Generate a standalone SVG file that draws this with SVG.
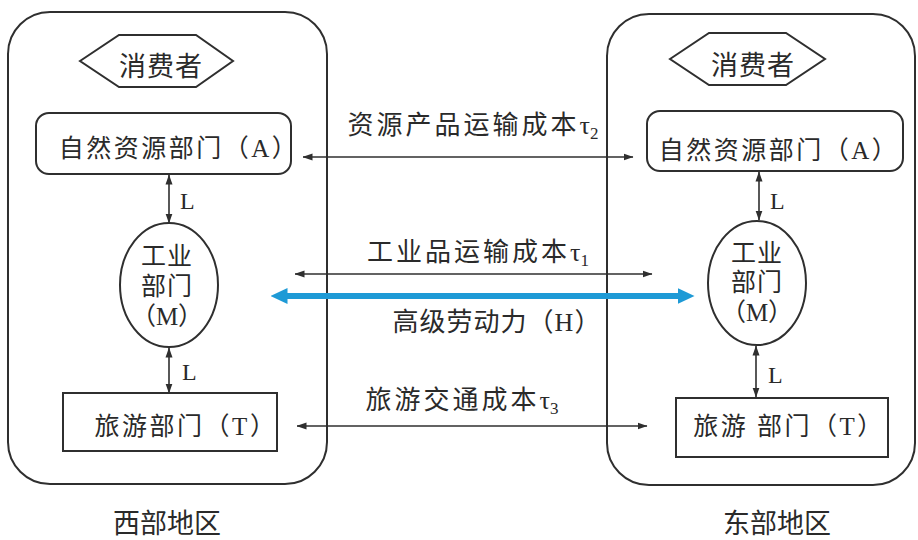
<svg xmlns="http://www.w3.org/2000/svg" width="918" height="540" viewBox="0 0 918 540">
<style>
.box{fill:none;stroke:#2f2f2f;stroke-width:2}
.cn{stroke:#2f2f2f;stroke-width:1.6;fill:none}
.t{font-family:"Liberation Serif","Noto Sans CJK SC",serif;fill:#2a2a2a}
.n{font-size:25px;text-anchor:middle}
.w{letter-spacing:2.5px}
.lab{font-size:26px;text-anchor:middle;letter-spacing:3px}
.L{font-size:24px}
.tau{letter-spacing:0}
</style>
<defs>
<marker id="ah" markerUnits="userSpaceOnUse" markerWidth="10" markerHeight="8" refX="9.5" refY="4" orient="auto-start-reverse" viewBox="0 0 10 8">
<path d="M0,0.5 L10,4 L0,7.5 z" fill="#2f2f2f"/>
</marker>
<marker id="bh" markerUnits="userSpaceOnUse" markerWidth="17" markerHeight="16" refX="0.5" refY="8" orient="auto-start-reverse" viewBox="0 0 17 16">
<path d="M0,0 L17,8 L0,16 z" fill="#1e9ad6"/>
</marker>
</defs>
<g id="west">
<rect class="box" x="8" y="12" width="319" height="472" rx="42"/>
<text class="t" x="167" y="533" font-size="27" text-anchor="middle">西部地区</text>
</g>
<g id="east">
<rect class="box" x="607" y="14" width="308" height="471" rx="42"/>
<text class="t" x="777" y="533" font-size="27" text-anchor="middle">东部地区</text>
</g>
<g id="w-consumer">
<polygon class="box" points="80,61 119,35 196,35 233,61 196,87 119,87"/>
<text class="t" x="161" y="76" font-size="27" text-anchor="middle" letter-spacing="1">消费者</text>
</g>
<g id="e-consumer">
<polygon class="box" points="670,59 709,33 786,33 825,59 786,85 709,85"/>
<text class="t" x="753" y="75" font-size="27" text-anchor="middle" letter-spacing="1">消费者</text>
</g>
<g id="w-A">
<rect class="box" x="36" y="113" width="255" height="61" rx="13"/>
<text class="t n w" x="179" y="157">自然资源部门（A）</text>
</g>
<g id="e-A">
<rect class="box" x="647" y="111" width="256" height="60" rx="13"/>
<text class="t n w" x="779" y="159">自然资源部门（A）</text>
</g>
<g id="w-M">
<ellipse class="box" cx="169" cy="285" rx="49" ry="62"/>
<text class="t n" x="167" y="265" letter-spacing="1">工业</text>
<text class="t n" x="167" y="295" letter-spacing="1">部门</text>
<text class="t n" x="167" y="325">（M）</text>
</g>
<g id="e-M">
<ellipse class="box" cx="757" cy="283" rx="49" ry="62"/>
<text class="t n" x="757" y="262" letter-spacing="1">工业</text>
<text class="t n" x="757" y="291" letter-spacing="1">部门</text>
<text class="t n" x="757" y="321">（M）</text>
</g>
<g id="w-T">
<rect class="box" x="63" y="393" width="214" height="58"/>
<text class="t n w" x="186" y="435">旅游部门（T）</text>
</g>
<g id="e-T">
<rect class="box" x="676" y="398" width="212" height="59"/>
<text class="t n w" x="789" y="435">旅游 部门（T）</text>
</g>
<g id="connectors">
<line class="cn" x1="169" y1="175" x2="169" y2="223" marker-start="url(#ah)" marker-end="url(#ah)"/>
<line class="cn" x1="169" y1="348" x2="169" y2="393" marker-start="url(#ah)" marker-end="url(#ah)"/>
<line class="cn" x1="759" y1="172" x2="759" y2="220" marker-start="url(#ah)" marker-end="url(#ah)"/>
<line class="cn" x1="756" y1="346" x2="756" y2="397" marker-start="url(#ah)" marker-end="url(#ah)"/>
<text class="t L" x="180" y="209">L</text>
<text class="t L" x="182" y="380">L</text>
<text class="t L" x="770" y="209">L</text>
<text class="t L" x="768" y="383">L</text>
<line class="cn" x1="303" y1="157" x2="633" y2="157" marker-start="url(#ah)" marker-end="url(#ah)"/>
<text class="t lab" x="473" y="134">资源产品运输成本<tspan class="tau">τ</tspan><tspan class="tau" font-size="17" dy="5">2</tspan></text>
<line class="cn" x1="295" y1="274" x2="652" y2="274" marker-start="url(#ah)" marker-end="url(#ah)"/>
<text class="t lab" x="478" y="261">工业品运输成本<tspan class="tau">τ</tspan><tspan class="tau" font-size="17" dy="5">1</tspan></text>
<line x1="287" y1="296" x2="678" y2="296" stroke="#1e9ad6" stroke-width="6" marker-start="url(#bh)" marker-end="url(#bh)"/>
<text class="t lab" x="497" y="331" style="letter-spacing:1px">高级劳动力（H）</text>
<line class="cn" x1="297" y1="426" x2="647" y2="426" marker-start="url(#ah)" marker-end="url(#ah)"/>
<text class="t lab" x="462" y="409">旅游交通成本<tspan class="tau">τ</tspan><tspan class="tau" font-size="17" dy="5">3</tspan></text>
</g>
</svg>
